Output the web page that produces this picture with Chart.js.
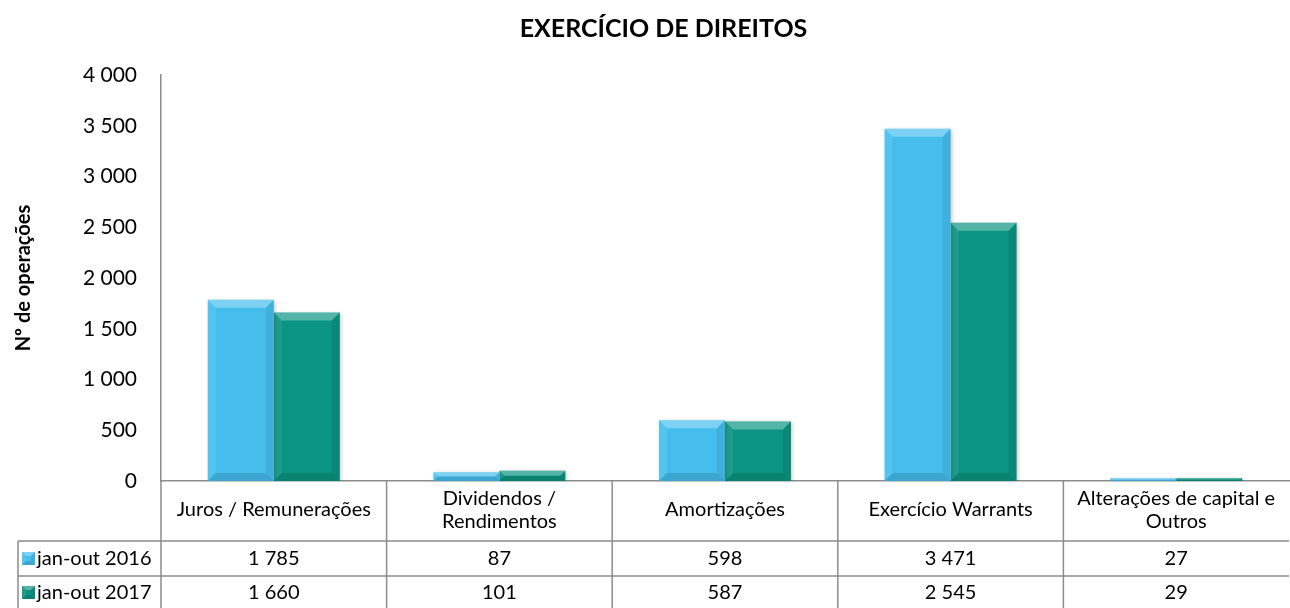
<!DOCTYPE html>
<html>
<head>
<meta charset="utf-8">
<script src="https://cdn.jsdelivr.net/npm/chart.js@4.4.1/dist/chart.umd.min.js"></script>
<style>
  html, body { margin: 0; padding: 0; background: #fff; }
  canvas { display: block; }
</style>
</head>
<body>
<canvas id="chart" width="1290" height="608"></canvas>
<script>
// dados
const categories = [
    ['Juros / Remunerações'],
    ['Dividendos /', 'Rendimentos'],
    ['Amortizações'],
    ['Exercício Warrants'],
    ['Alterações de capital e', 'Outros']
];
const seriesNames = ['jan-out 2016', 'jan-out 2017'];
const values2016 = [1785, 87, 598, 3471, 27];
const values2017 = [1660, 101, 587, 2545, 29];
const yTicks = [0, 500, 1000, 1500, 2000, 2500, 3000, 3500, 4000];

const barColors = ['#45BEEE', '#0B9482'];
const lineColor = '#8c8c8c';
const fontFamily = 'Lato, "Open Sans", sans-serif';

function fmt(n) {
    return String(n).replace(/\B(?=(\d{3})+(?!\d))/g, ' ');
}

// bisel tipo "3D" por cima de cada barra
function drawBevel(ctx, l, t, r, b, size) {
    const s = Math.min(size, (r - l) / 2, (b - t) / 2);
    if (s <= 0) return;
    ctx.save();
    // topo
    ctx.fillStyle = 'rgba(255,255,255,0.3)';
    ctx.beginPath();
    ctx.moveTo(l, t); ctx.lineTo(r, t); ctx.lineTo(r - s, t + s); ctx.lineTo(l + s, t + s);
    ctx.closePath(); ctx.fill();
    // esquerda
    ctx.fillStyle = 'rgba(255,255,255,0.08)';
    ctx.beginPath();
    ctx.moveTo(l, t); ctx.lineTo(l + s, t + s); ctx.lineTo(l + s, b - s); ctx.lineTo(l, b);
    ctx.closePath(); ctx.fill();
    // direita
    ctx.fillStyle = 'rgba(0,0,0,0.08)';
    ctx.beginPath();
    ctx.moveTo(r, t); ctx.lineTo(r - s, t + s); ctx.lineTo(r - s, b - s); ctx.lineTo(r, b);
    ctx.closePath(); ctx.fill();
    // base
    ctx.fillStyle = 'rgba(0,0,0,0.12)';
    ctx.beginPath();
    ctx.moveTo(l, b); ctx.lineTo(l + s, b - s); ctx.lineTo(r - s, b - s); ctx.lineTo(r, b);
    ctx.closePath(); ctx.fill();
    ctx.restore();
}

const barShadow = {
    id: 'barShadow',
    beforeDatasetsDraw(chart) {
        const ctx = chart.ctx;
        ctx.save();
        ctx.shadowColor = 'rgba(0,0,0,0.22)';
        ctx.shadowBlur = 4;
        ctx.shadowOffsetX = 1;
        ctx.shadowOffsetY = 1;
    },
    afterDatasetsDraw(chart) {
        const ctx = chart.ctx;
        ctx.restore();
        chart.data.datasets.forEach((ds, i) => {
            chart.getDatasetMeta(i).data.forEach(bar => {
                const p = bar.getProps(['x', 'y', 'base', 'width'], true);
                drawBevel(ctx, p.x - p.width / 2, p.y, p.x + p.width / 2, p.base, 8);
            });
        });
    }
};

// tabela de dados por baixo do eixo
const dataTable = {
    id: 'dataTable',
    afterDraw(chart) {
        const ctx = chart.ctx;
        const area = chart.chartArea;
        const xs = chart.scales.x;
        const catW = (area.right - area.left) / categories.length;
        const top = area.bottom;
        const row1 = top + 60;
        const row2 = row1 + 35;
        const bottom = chart.height + 2;
        const legendLeft = 18;

        ctx.save();
        ctx.strokeStyle = lineColor;
        ctx.lineWidth = 1.5;
        ctx.beginPath();
        // linhas horizontais
        [row1, row2].forEach(y => { ctx.moveTo(legendLeft, y); ctx.lineTo(area.right, y); });
        // coluna da legenda
        ctx.moveTo(legendLeft, row1); ctx.lineTo(legendLeft, bottom);
        ctx.moveTo(area.left, top); ctx.lineTo(area.left, bottom);
        for (let i = 1; i < categories.length; i++) {
            const x = area.left + i * catW;
            ctx.moveTo(x, top); ctx.lineTo(x, bottom);
        }
        ctx.stroke();

        ctx.fillStyle = '#000';
        ctx.font = '20px ' + fontFamily;
        ctx.textAlign = 'center';
        ctx.textBaseline = 'middle';
        const lh = 23;
        categories.forEach((lines, i) => {
            const cx = xs.getPixelForValue(i);
            const cy = (top + row1) / 2 - 1;
            lines.forEach((t, k) => {
                ctx.fillText(t, cx, cy + (k - (lines.length - 1) / 2) * lh);
            });
            ctx.fillText(fmt(values2016[i]), cx, (row1 + row2) / 2);
            ctx.fillText(fmt(values2017[i]), cx, row2 + 16.5);
        });

        // legenda
        ctx.textAlign = 'left';
        [[row1, row2], [row2, row2 + 33]].forEach((r, k) => {
            const cy = (r[0] + r[1]) / 2;
            ctx.fillStyle = barColors[k];
            ctx.fillRect(22, cy - 6.5, 13, 13);
            drawBevel(ctx, 22, cy - 6.5, 35, cy + 6.5, 4);
            ctx.fillStyle = '#000';
            ctx.fillText(seriesNames[k], 37, cy);
        });
        ctx.restore();
    }
};

new Chart(document.getElementById('chart'), {
    type: 'bar',
    data: {
        labels: categories,
        datasets: [
            { label: seriesNames[0], data: values2016, backgroundColor: barColors[0] },
            { label: seriesNames[1], data: values2017, backgroundColor: barColors[1] }
        ]
    },
    options: {
        responsive: false,
        animation: false,
        layout: { padding: { left: 38, right: 1, top: 0, bottom: 0 } },
        datasets: {
            bar: { categoryPercentage: 0.585, barPercentage: 1.0, borderWidth: 0 }
        },
        plugins: {
            legend: { display: false },
            tooltip: { enabled: false },
            title: {
                display: true,
                text: 'EXERCÍCIO DE DIREITOS',
                color: '#000',
                font: { family: fontFamily, size: 25, weight: 'bold' },
                padding: { top: 14, bottom: 31 }
            }
        },
        scales: {
            x: {
                ticks: { display: false },
                grid: { display: false, drawTicks: false },
                border: { display: true, color: lineColor, width: 1.5 },
                afterFit(s) { s.height = 127; }
            },
            y: {
                min: 0,
                max: 4000,
                afterBuildTicks(s) { s.ticks = yTicks.map(v => ({ value: v })); },
                ticks: {
                    color: '#000',
                    font: { family: fontFamily, size: 21 },
                    padding: 24,
                    callback: v => fmt(v)
                },
                grid: { display: false, drawTicks: false },
                border: { display: true, color: lineColor, width: 1.5 },
                title: {
                    display: true,
                    text: 'Nº de operações',
                    color: '#000',
                    font: { family: fontFamily, size: 20, weight: 'bold' },
                    padding: { top: -26, bottom: 0 }
                },
                afterFit(s) { s.width = 123; }
            }
        }
    },
    plugins: [barShadow, dataTable]
});
</script>
</body>
</html>
